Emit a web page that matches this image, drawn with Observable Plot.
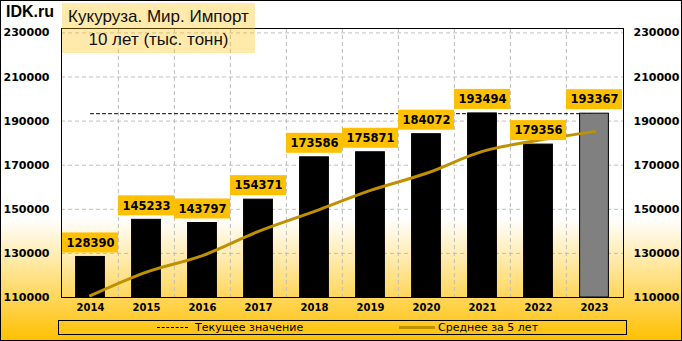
<!DOCTYPE html>
<html>
<head>
<meta charset="utf-8">
<script src="https://cdn.jsdelivr.net/npm/d3@7"></script>
<script src="https://cdn.jsdelivr.net/npm/@observablehq/plot@0.6"></script>
<style>
  html, body { margin: 0; padding: 0; background: #fff; }
  #chart {
    position: relative; width: 682px; height: 341px; overflow: hidden;
    background: linear-gradient(to bottom, #ffffff 0%, #ffffff 64%, #ffc000 100%);
    font-family: "DejaVu Sans", sans-serif;
  }
  #plot { position: absolute; left: 0; top: 0; }
  #border { position: absolute; left: 0; top: 0; width: 682px; height: 341px; box-sizing: border-box; border: 1px solid #000; pointer-events: none; }
  #brand { position: absolute; left: 6px; top: 3px; font: bold 16px "Liberation Sans", Arial, sans-serif; color: #000; }
  #titlebox {
    position: absolute; left: 62px; top: 3px; width: 193px; height: 50px;
    background: rgba(255,192,0,0.33); text-align: center;
    font: 17px "Liberation Sans", Arial, sans-serif; color: #111;
  }
  #titlebox div { position: absolute; left: 0; width: 100%; }
  #legend { position: absolute; left: 58px; top: 320px; width: 569px; height: 15px; box-sizing: border-box; border: 1px solid #000; font: 11px "DejaVu Sans", sans-serif; }
  .li { position: absolute; top: 0px; line-height: 13px; white-space: nowrap; }
  .sw { position: absolute; }
</style>
</head>
<body>
<div id="chart">
  <div id="plot"></div>
  <div id="brand">IDK.ru</div>
  <div id="titlebox"><div id="t1" style="top:4px">Кукуруза. Мир. Импорт</div><div id="t2" style="top:27px">10 лет (тыс. тонн)</div></div>
  <div id="legend">
    <div class="sw" style="left:98px; top:6px; width:31px; border-top:1px dashed #000;"></div>
    <div class="li" style="left:136px;">Текущее значение</div>
    <div class="sw" style="left:340px; top:5px; width:36px; height:3px; background:#bf9000;"></div>
    <div class="li" style="left:379px;">Среднее за 5 лет</div>
  </div>
  <div id="border"></div>
</div>
<script>
const years = [2014, 2015, 2016, 2017, 2018, 2019, 2020, 2021, 2022, 2023];
const values = [128390, 145233, 143797, 154371, 173586, 175871, 184072, 193494, 179356, 193367];
const avg5 = [110800, 121500, 129000, 140000, 149075, 158572, 166339, 176279, 181276, 185232];
const yTicks = [110000, 130000, 150000, 170000, 190000, 210000, 230000];
const currentValue = 193367;
const currentYear = 2023;

const rows = years.map((yr, i) => ({year: yr, value: values[i], avg: avg5[i]}));
const currentLine = [{year: years[0], v: currentValue}, {year: years[years.length - 1], v: currentValue}];

const W = 682, H = 341, mL = 61, mR = 59, mT = 28, mB = 44;
const bw = (W - mL - mR) / years.length;
const yMin = yTicks[0];
const gridStyle = {stroke: "#bfbfbf", strokeOpacity: 1, strokeDasharray: "4,3"};

const chart = Plot.plot({
  width: W, height: H,
  marginLeft: mL, marginRight: mR, marginTop: mT, marginBottom: mB,
  style: {background: "transparent", fontFamily: "DejaVu Sans, sans-serif", color: "#000", overflow: "visible"},
  x: {type: "band", domain: years, padding: 0, label: null},
  y: {domain: [yMin, 232000], label: null},
  marks: [
    Plot.gridY(yTicks.slice(1), gridStyle),
    Plot.ruleX(years.slice(1), {x: d => d, dx: -bw / 2, ...gridStyle}),
    Plot.line(currentLine, {x: "year", y: "v", stroke: "#000", strokeWidth: 1, strokeDasharray: "3,3"}),
    Plot.barY(rows, {x: "year", y1: () => yMin, y2: "value",
      fill: d => d.year === currentYear ? "#808080" : "#000", stroke: "#000", strokeWidth: 1,
      insetLeft: 13.6, insetRight: 13.6}),
    Plot.line(rows, {x: "year", y: "avg", stroke: "#bf9000", strokeWidth: 3, curve: "catmull-rom"}),
    Plot.barY(rows, {x: "year", y1: "value", y2: "value", fill: "#ffc000", insetTop: -24, insetBottom: 4}),
    Plot.text(rows, {x: "year", y: "value", text: d => String(d.value), dy: -14,
      fontWeight: "bold", fontSize: 11.5, fill: "#000"}),
    Plot.frame({stroke: "#000", strokeWidth: 1}),
    Plot.axisY(yTicks, {anchor: "left", label: null, tickSize: 0, tickPadding: 12, tickFormat: d => String(d), fontWeight: "bold", fontSize: 11}),
    Plot.axisY(yTicks, {anchor: "right", label: null, tickSize: 0, tickPadding: 10, tickFormat: d => String(d), fontWeight: "bold", fontSize: 11}),
    Plot.axisX({label: null, tickSize: 0, tickPadding: 6, tickFormat: d => String(d), fontWeight: "bold", fontSize: 10})
  ]
});
document.getElementById("plot").appendChild(chart);
</script>
</body>
</html>
